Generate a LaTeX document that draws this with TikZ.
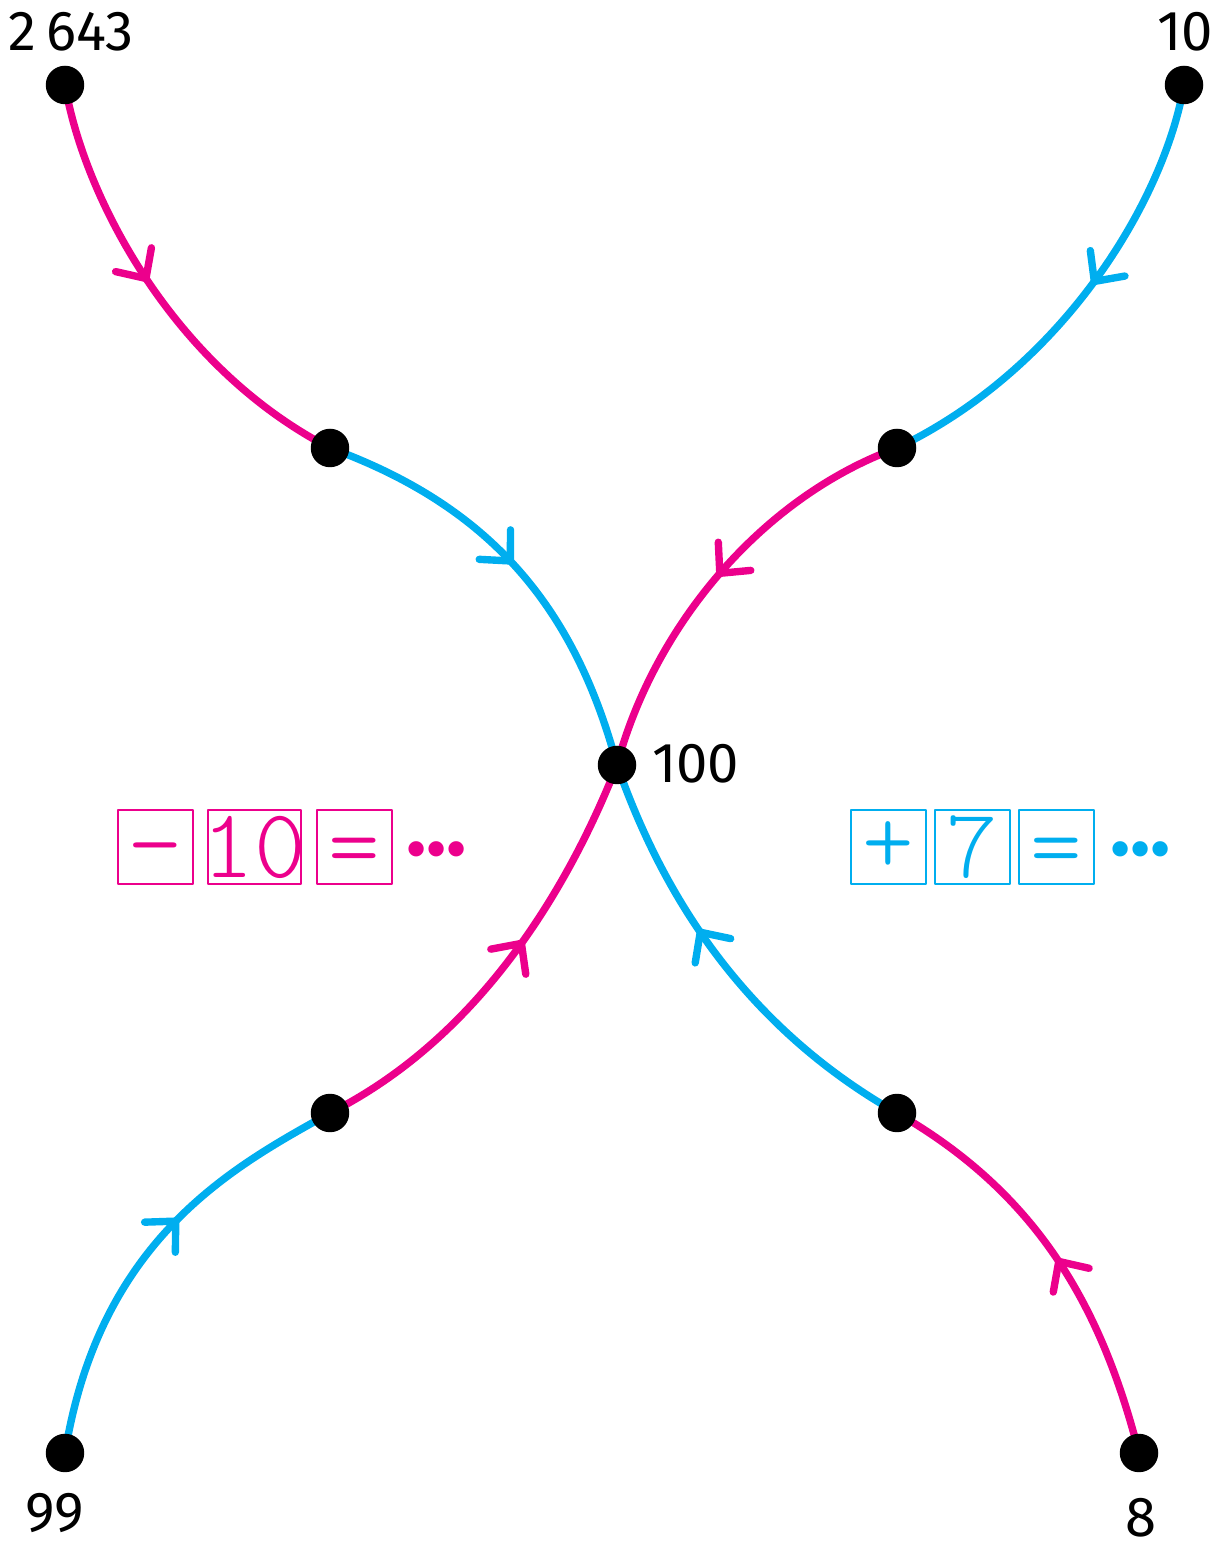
\documentclass[tikz,border=0pt]{standalone}
\usepackage{fontspec}
\setsansfont{Fira Sans}
\newfontfamily\boxfont{lmmonolt10-regular.otf}
\usetikzlibrary{decorations.markings}

\definecolor{mag}{RGB}{236,0,140}
\definecolor{cya}{RGB}{0,174,239}

% Zeichen im Kasten, Mitte der Schwaerzung auf Knotenmitte
\newcommand\opsym[2][0.3em]{\makebox[0pt]{\raisebox{-#1}[0pt][0pt]{#2}}}

\tikzset{
  midarr/.style={postaction={decorate},
    decoration={markings, mark=at position #1 with {
      \draw[line width=4.2pt, line cap=round, line join=round]
        (-0.45cm,0.43cm) -- (0,0) -- (-0.45cm,-0.43cm);}}},
  magline/.style={mag, line width=4.2pt, midarr=#1},
  cyaline/.style={cya, line width=4.2pt, midarr=#1},
  dot/.style={circle, fill=black, inner sep=0pt, minimum size=0.77cm},
  numlab/.style={font=\sffamily\fontsize{32}{32}\selectfont},
  opbox/.style={draw=#1, text=#1, line width=1pt, minimum width=1.5cm,
    minimum height=1.48cm, inner sep=0pt, font=\boxfont\fontsize{56}{56}\selectfont},
  dots/.style={text=#1, anchor=base west, inner sep=0pt,
    font=\sffamily\bfseries\fontsize{48}{48}\selectfont},
}

\begin{document}
\begin{tikzpicture}[x=0.02cm, y=0.02cm, line cap=round, line join=round]
  \useasboundingbox (0,0) rectangle (1217,1553);

  % Punkte
  \coordinate (A) at (65,1468);
  \coordinate (B) at (330,1105);
  \coordinate (C) at (617,788);
  \coordinate (D) at (1184,1468);
  \coordinate (E) at (897,1105);
  \coordinate (F) at (65,100);
  \coordinate (G) at (330,440);
  \coordinate (H) at (1139,100);
  \coordinate (I) at (897,440);

  % Wege nach 100
  \draw[magline=0.455] (A) .. controls (84,1356) and (173,1186) .. (B);
  \draw[cyaline=0.48] (B) to[out=-20, in=105] (C);
  \draw[cyaline=0.455] (D) .. controls (1165,1356) and (1066,1186) .. (E);
  \draw[magline=0.5] (E) to[out=200, in=75, looseness=0.87] (C);
  \draw[cyaline=0.58] (F) .. controls (100,316) and (235,387) .. (G);
  \draw[magline=0.56] (G) .. controls (493,522) and (578,689) .. (C);
  \draw[magline=0.485] (H) .. controls (1103,240) and (1042,357) .. (I);
  \draw[cyaline=0.59] (I) .. controls (715,543) and (647,704) .. (C);

  % Knoten
  \foreach \p in {A,B,C,D,E,F,G,H,I} \node[dot] (n\p) at (\p) {};

  % Zahlen
  \node[numlab] (lA) at (71,1521) {2\,643};
  \node[numlab] (lD) at (1185,1521) {10};
  \node[numlab, anchor=west] (lC) at (646,789) {100};
  \node[numlab] (lF) at (55,40) {99};
  \node[numlab] (lH) at (1141,35) {8};

  % Rechnungen
  \node[opbox=mag] (m1) at (155.5,706) {\opsym[0.29em]{\symbol{"2212}}};
  \node[opbox=mag, minimum width=1.86cm] (m2) at (254.5,706) {\opsym[0.306em]{10}};
  \node[opbox=mag] (m3) at (354.5,706) {\opsym[0.32em]{=}};
  \node[dots=mag] (m4) at (406,697) {...};

  \node[opbox=cya] (c1) at (888.5,706) {\opsym[0.27em]{+}};
  \node[opbox=cya] (c2) at (972.5,706) {\opsym[0.306em]{7}};
  \node[opbox=cya] (c3) at (1056.5,706) {\opsym[0.32em]{=}};
  \node[dots=cya] (c4) at (1110,697) {...};
\end{tikzpicture}
\end{document}
